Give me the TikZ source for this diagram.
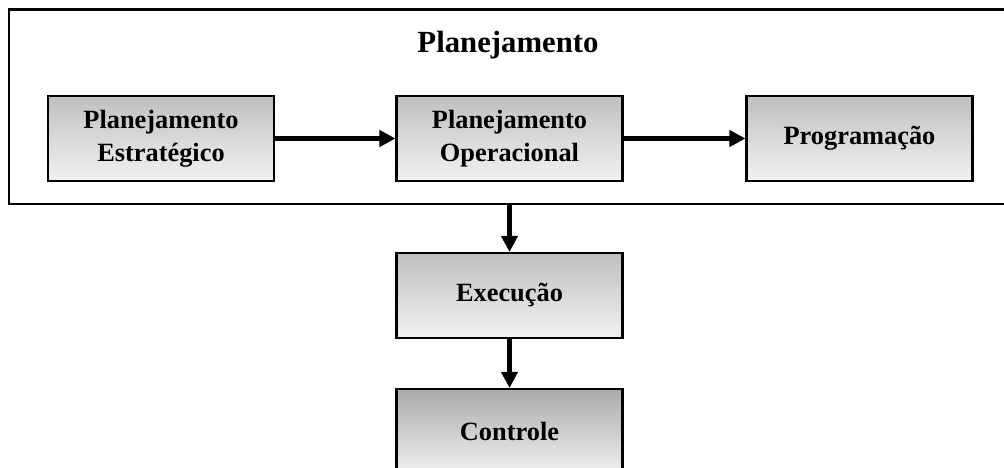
\documentclass[tikz,border=0pt]{standalone}
\usepackage{fontspec}
\setmainfont{Liberation Serif}
\usetikzlibrary{arrows.meta}

\begin{document}
\begin{tikzpicture}[
    etapa/.style={draw, line width=1.15pt, top color=black!25, bottom color=black!5,
      minimum width=4.52cm, minimum height=1.70cm, align=center,
      font=\bfseries\fontsize{15}{19}\selectfont},
    seta/.style={line width=2.3pt, -{Triangle[length=0.32cm,width=0.32cm]}}
  ]
  \useasboundingbox (0,0) rectangle (20.08,9.36);
  \clip (0,0) rectangle (20.08,9.36);
  \draw[line width=1.3pt] (0.18,5.28) rectangle (20.6,9.17);
  \node[font=\bfseries\fontsize{17.5}{20}\selectfont] (titulo) at (10.16,8.46) {Planejamento};
  \node[etapa] (estrategico) at (3.22,6.59) {Planejamento\\Estratégico};
  \node[etapa] (operacional) at (10.19,6.59) {Planejamento\\Operacional};
  \node[etapa] (programacao) at (17.19,6.59) {Programação};
  \node[etapa] (execucao) at (10.19,3.45) {Execução};
  \node[etapa, top color=black!33, bottom color=black!6] (controle) at (10.19,0.73) {Controle};
  \coordinate (base) at (10.19,5.28);
  \draw[seta] (estrategico) -- (operacional);
  \draw[seta] (operacional) -- (programacao);
  \draw[seta] (base) -- (execucao);
  \draw[seta] (execucao) -- (controle);
\end{tikzpicture}
\end{document}
